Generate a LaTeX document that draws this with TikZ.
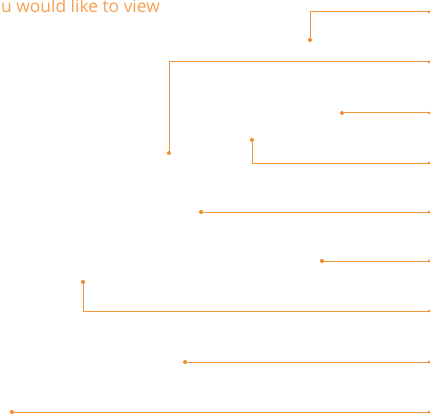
\documentclass[tikz,border=0pt]{standalone}
\usepackage{fontspec}
\setmainfont{Open Sans}
\definecolor{lineor}{RGB}{246,150,60}
\definecolor{dotor}{RGB}{244,135,40}
\definecolor{textor}{RGB}{248,160,80}
\begin{document}
\begin{tikzpicture}[x=1pt,y=-1pt,
  leader/.style={draw=lineor,line width=1pt},
  pin/.style={circle,fill=dotor,inner sep=0pt,minimum size=4pt},
  endpin/.style={circle,fill=dotor,inner sep=0pt,minimum size=3pt},
  title/.style={text=textor,font=\fontsize{17.4}{19}\selectfont,anchor=base east,inner sep=0pt}]
\useasboundingbox (0,0) rectangle (430,414);
\node[title] (t) at (160,13) {u would like to view};
% pins
\node[pin] (p1) at (310,40) {};
\node[pin] (p2) at (169,153) {};
\node[pin] (p3) at (342,113) {};
\node[pin] (p4) at (252,140) {};
\node[pin] (p5) at (201,212) {};
\node[pin] (p6) at (322,261) {};
\node[pin] (p7) at (83,282) {};
\node[pin] (p8) at (185,362) {};
\node[pin] (p9) at (12,412) {};
% right ends
\node[endpin] (e1) at (429,12) {};
\node[endpin] (e2) at (429,62) {};
\node[endpin] (e3) at (429,113) {};
\node[endpin] (e4) at (429,163) {};
\node[endpin] (e5) at (429,212) {};
\node[endpin] (e6) at (429,261) {};
\node[endpin] (e7) at (429,311) {};
\node[endpin] (e8) at (429,362) {};
\node[endpin] (e9) at (429,412) {};
\draw[leader] (e1.center) -| (p1.center);
\draw[leader] (e2.center) -| (p2.center);
\draw[leader] (e3.center) -- (p3.center);
\draw[leader] (e4.center) -| (p4.center);
\draw[leader] (e5.center) -- (p5.center);
\draw[leader] (e6.center) -- (p6.center);
\draw[leader] (e7.center) -| (p7.center);
\draw[leader] (e8.center) -- (p8.center);
\draw[leader] (e9.center) -- (p9.center);
\end{tikzpicture}
\end{document}
